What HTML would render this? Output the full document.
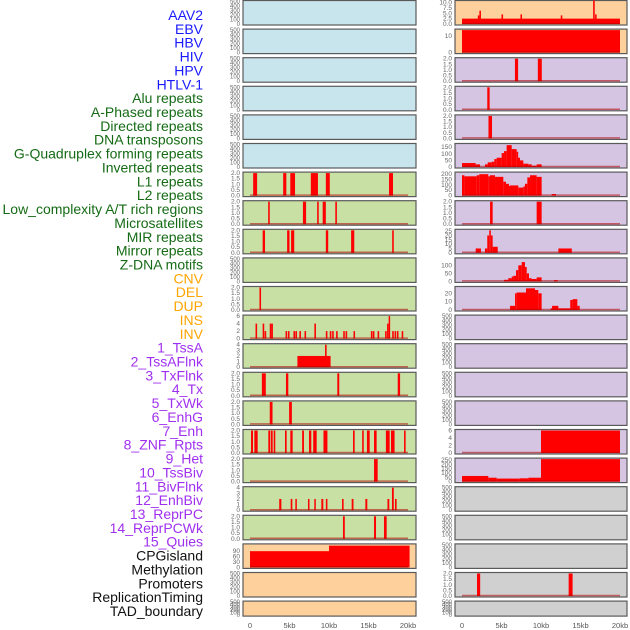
<!DOCTYPE html>
<html><head><meta charset="utf-8">
<style>
html,body{margin:0;padding:0;background:#fff;}
svg{display:block;font-family:"Liberation Sans",sans-serif;}
</style></head>
<body>
<svg id="chart" width="630" height="630" viewBox="0 0 630 630" xmlns="http://www.w3.org/2000/svg"></svg>
<script>
// ---------- data ----------
const featureLabels = ["AAV2","EBV","HBV","HIV","HPV","HTLV-1","Alu repeats","A-Phased repeats","Directed repeats","DNA transposons","G-Quadruplex forming repeats","Inverted repeats","L1 repeats","L2 repeats","Low_complexity A/T rich regions","Microsatellites","MIR repeats","Mirror repeats","Z-DNA motifs","CNV","DEL","DUP","INS","INV","1_TssA","2_TssAFlnk","3_TxFlnk","4_Tx","5_TxWk","6_EnhG","7_Enh","8_ZNF_Rpts","9_Het","10_TssBiv","11_BivFlnk","12_EnhBiv","13_ReprPC","14_ReprPCWk","15_Quies","CPGisland","Methylation","Promoters","ReplicationTiming","TAD_boundary"];
const labelGroups = ["virus","virus","virus","virus","virus","virus","repeat","repeat","repeat","repeat","repeat","repeat","repeat","repeat","repeat","repeat","repeat","repeat","repeat","sv","sv","sv","sv","sv","chrom","chrom","chrom","chrom","chrom","chrom","chrom","chrom","chrom","chrom","chrom","chrom","chrom","chrom","chrom","other","other","other","other","other"];
const xTickValues = [0,5,10,15,20];
const xTickLabels = ["0","5kb","10kb","15kb","20kb"];

// segments: [startKb, endKb, value]
const leftRow6 = [[0.4,0.9,2],[4.2,4.6,2],[5.1,5.7,2],[7.7,8.6,2],[9.6,10.1,2],[17.6,18.1,2]];
const leftRow7 = [[2.3,2.5,2],[6.7,7.1,2],[8.5,8.7,2],[9.2,9.6,2],[10.8,11.0,2]];
const leftRow8 = [[1.6,1.9,2],[4.7,5.0,2],[5.2,5.6,2],[9.6,9.9,2],[12.8,13.2,2],[18.0,18.2,2]];
const leftRow10 = [[1.2,1.4,2]];
const leftRow11 = [[0.7,0.9,4],[1.6,1.8,4],[1.85,2.05,2],[2.5,2.7,4],[2.7,2.9,4],[4.5,4.7,2],[4.8,5.0,2],[5.5,5.7,2],[5.75,5.95,2],[6.25,6.45,2],[6.9,7.1,2],[8.15,8.35,4],[9.6,9.8,2],[10.1,10.3,2],[10.4,10.6,2],[10.9,11.1,2],[11.8,12.0,2],[12.1,12.3,2],[13.1,13.3,2],[15.3,15.5,2],[15.55,15.75,2],[16.15,16.35,2],[17.1,17.3,2],[17.35,17.5,4],[17.55,17.7,6],[18.0,18.2,2],[18.3,18.5,2],[18.6,18.8,2],[19.2,19.4,2]];
const leftRow12 = [[6.0,10.2,2],[9.5,9.7,4]];
const leftRow13 = [[1.5,2.0,2],[4.55,4.85,2],[11.05,11.3,2],[18.7,19.0,2]];
const leftRow14 = [[2.5,2.85,2],[4.95,5.3,2]];
const leftRow15 = [[0.13,0.38,2],[0.55,0.97,2],[2.32,2.57,2],[2.66,2.87,2],[3.0,3.2,2],[4.43,4.64,2],[5.1,5.4,2],[6.6,6.83,2],[7.47,7.76,2],[8.0,8.44,2],[9.3,9.8,2],[13.04,13.25,2],[14.2,14.4,2],[14.8,15.15,2],[15.7,16.03,2],[17.2,17.68,2],[17.85,18.3,2],[19.5,19.7,2]];
const leftRow16 = [[15.7,16.16,2]];
const leftRow17 = [[3.7,3.97,2],[5.15,5.36,2],[5.74,5.9,2],[7.34,7.5,2],[8.14,8.3,2],[9.03,9.28,2],[9.6,9.8,2],[11.65,11.85,2],[12.87,13.1,2],[14.6,14.85,2],[17.4,17.63,2],[17.97,18.2,4],[18.35,18.56,2]];
const leftRow18 = [[11.77,12.0,2],[15.7,15.95,2],[16.96,17.3,2]];
const leftRow19 = [[0,10,88],[10,20.2,118]];

const rightRow0 = [[0,20,2.5],[2.2,2.4,6.2],[2.0,2.2,4],[5.0,5.2,4.5],[7.4,7.6,4.5],[12.5,12.7,4],[16.6,16.8,11],[16.85,17.0,4.5]];
const rightRow1 = [[0,20,13.7]];
const rightRow2 = [[6.7,7.1,2],[9.6,10.1,2]];
const rightRow3 = [[3.2,3.5,2]];
const rightRow4 = [[3.35,3.8,2]];
const rightRow5 = [[0,1.73,30],[1.73,2.28,20],[2.91,3.25,20],[3.25,3.75,35],[3.75,4.09,40],[4.09,4.39,60],[4.39,5.02,70],[5.02,5.32,105],[5.32,5.65,120],[5.65,6.29,165],[6.29,6.92,135],[6.92,7.05,115],[7.05,7.34,70],[7.34,7.76,50],[7.76,8.4,25],[8.4,8.82,20],[8.82,9.45,10],[9.45,10.08,20]];
const rightRow6 = [[0,0.3,190],[0.3,1.86,180],[1.86,2.19,190],[2.19,3.33,200],[3.33,3.54,180],[3.54,4.18,190],[4.18,5.23,175],[5.23,5.57,130],[5.57,5.95,110],[5.95,6.08,90],[6.08,7.13,95],[7.13,7.76,75],[7.76,7.97,85],[7.97,8.27,110],[8.27,8.61,170],[8.61,9.45,190],[9.45,10.08,175],[11.35,11.9,15]];
const rightRow7 = [[3.55,3.88,2],[9.45,10.08,2]];
const rightRow8 = [[1.73,2.4,5],[2.91,3.2,5],[3.2,3.45,20],[3.45,3.65,26],[3.65,3.88,20],[3.88,4.52,7],[12.2,13.9,5]];
const rightRow9 = [[5.32,5.86,10],[5.86,6.29,20],[6.29,6.5,30],[6.5,6.84,35],[6.84,7.13,70],[7.13,7.55,100],[7.55,7.97,120],[7.97,8.19,90],[8.19,8.48,50],[8.48,8.82,20],[8.82,9.45,15],[9.45,10.08,25],[11.64,12.1,8]];
const rightRow10 = [[6.08,6.71,5],[6.71,6.92,20],[6.92,8.1,21],[8.1,9.24,26],[9.24,9.66,24],[9.66,10.08,20],[11.22,11.4,2],[11.4,12.2,5],[12.2,13.7,2],[13.7,14.0,12],[14.0,14.6,13],[14.6,14.9,5]];
const rightRow15 = [[10,20,6]];
const rightRow16 = [[0,3.33,65],[3.33,4.39,45],[4.39,7.3,35],[7.3,8.4,38],[8.4,10,45],[10,20,260]];
const rightRow20 = [[1.9,2.3,2],[13.5,14.0,2]];

const emptyTicks = [0,100,200,300,400,500];
const binTicks = [0,0.5,1,1.5,2];
const binTickLabels = ["0.0","0.5","1.0","1.5","2.0"];

// ---------- layout ----------
const svg = document.getElementById('chart');
const NS = 'http://www.w3.org/2000/svg';
const COLS = [{x:243,w:173,x0:250},{x:455,w:172,x0:462}];
const KB = 7.9;
const BG = {blue:'#c8e4ec',green:'#c8e0a4',orange:'#fed09c',purple:'#d5c5e3',grey:'#d0d0d0'};
function rowTop(i){return 0.5 + i*28.6;}
function rowH(i){return i===21 ? 15 : 24.5;}
function xScale(col,kb){return COLS[col].x0 + kb*KB;}
function el(tag,attrs){const e=document.createElementNS(NS,tag);for(const k in attrs)e.setAttribute(k,attrs[k]);return e;}

const leftBg = ['blue','blue','blue','blue','blue','blue','green','green','green','green','green','green','green','green','green','green','green','green','green','orange','orange','orange'];
const rightBg = ['orange','orange','purple','purple','purple','purple','purple','purple','purple','purple','purple','purple','purple','purple','purple','purple','purple','grey','grey','grey','grey','grey'];

const leftData = {6:leftRow6,7:leftRow7,8:leftRow8,10:leftRow10,11:leftRow11,12:leftRow12,13:leftRow13,14:leftRow14,15:leftRow15,16:leftRow16,17:leftRow17,18:leftRow18,19:leftRow19};
const rightData = {0:rightRow0,1:rightRow1,2:rightRow2,3:rightRow3,4:rightRow4,5:rightRow5,6:rightRow6,7:rightRow7,8:rightRow8,9:rightRow9,10:rightRow10,15:rightRow15,16:rightRow16,20:rightRow20};

const leftAxis = {11:[6,[0,2,4,6]],12:[4,[0,1,2,3,4]],17:[4,[0,1,2,3,4]],19:[122,[0,30,60,90]]};
const rightAxis = {0:[10.5,[0,2.5,5,7.5,10],["0.0","2.5","5.0","7.5","10.0"]],1:[13.7,[0,10]],5:[170,[0,50,100,150]],6:[210,[0,50,100,150,200]],8:[26,[0,5,10,15,20,25]],9:[140,[0,50,100]],10:[27,[0,10,20]],15:[6,[0,2,4,6]],16:[260,[0,50,100,150,200,250]]};

function drawPanel(col,row,bgKey,segs,axis){
  const c = COLS[col], top=rowTop(row), h=rowH(row);
  const g = el('g',{});
  
  
  svg.appendChild(g);
  const r = el('rect',{x:c.x,y:top,width:c.w,height:h,fill:BG[bgKey],stroke:'#5a5a5a','stroke-width':1.2});
  
  
  g.appendChild(r);
  let ymax, ticks, tlabels;
  if(axis){ymax=axis[0];ticks=axis[1];tlabels=axis[2]||ticks.map(String);}
  else if(segs){ymax=2;ticks=binTicks;tlabels=binTickLabels;}
  else {ymax=500;ticks=emptyTicks;tlabels=ticks.map(String);}
  const yB = top+h-1, yT = top+1;
  const ys = v => yB - v/ymax*(yB-yT);
  ticks.forEach((t,i)=>{
    const tx = el('text',{x:c.x-3,y:ys(t)+2,'text-anchor':'end','font-size':(segs||axis)?6.5:6,fill:'#666'});
    tx.textContent = tlabels[i];
    
    
    g.appendChild(tx);
  });
  if(segs){
    segs.forEach(s=>{
      const x1=xScale(col,s[0]), x2=xScale(col,s[1]);
      const b = el('rect',{x:x1,y:ys(s[2]),width:Math.max(1.5,x2-x1),height:yB-ys(s[2]),fill:'#ff0000'});
      
      
      g.appendChild(b);
    });
    const ln = el('line',{x1:xScale(col,0),x2:xScale(col,20),y1:yB-0.5,y2:yB-0.5,stroke:'rgba(180,0,0,0.55)','stroke-width':1.5});
    
    
    g.appendChild(ln);
  }
}
for(let r=0;r<22;r++){
  drawPanel(0,r,leftBg[r],leftData[r],leftAxis[r]);
  drawPanel(1,r,rightBg[r],rightData[r],rightAxis[r]);
}
// labels
const groupColor = {virus:'#1a1aff',repeat:'#156b15',sv:'#ffa500',chrom:'#a030f0',other:'#111'};
const pitch = (611-15)/(featureLabels.length-1);
featureLabels.forEach((l,i)=>{
  const t = el('text',{x:203,y:15+i*pitch+5,'text-anchor':'end','font-size':14,fill:groupColor[labelGroups[i]]});
  t.textContent = l;
  
  
  svg.appendChild(t);
});
// x axes
[0,1].forEach(col=>{
  xTickValues.forEach((v,i)=>{
    const t = el('text',{x:xScale(col,v),y:628,'text-anchor':'middle','font-size':7.5,fill:'#555'});
    t.textContent = xTickLabels[i];
    
    
    svg.appendChild(t);
  });
});
</script>
</body></html>
